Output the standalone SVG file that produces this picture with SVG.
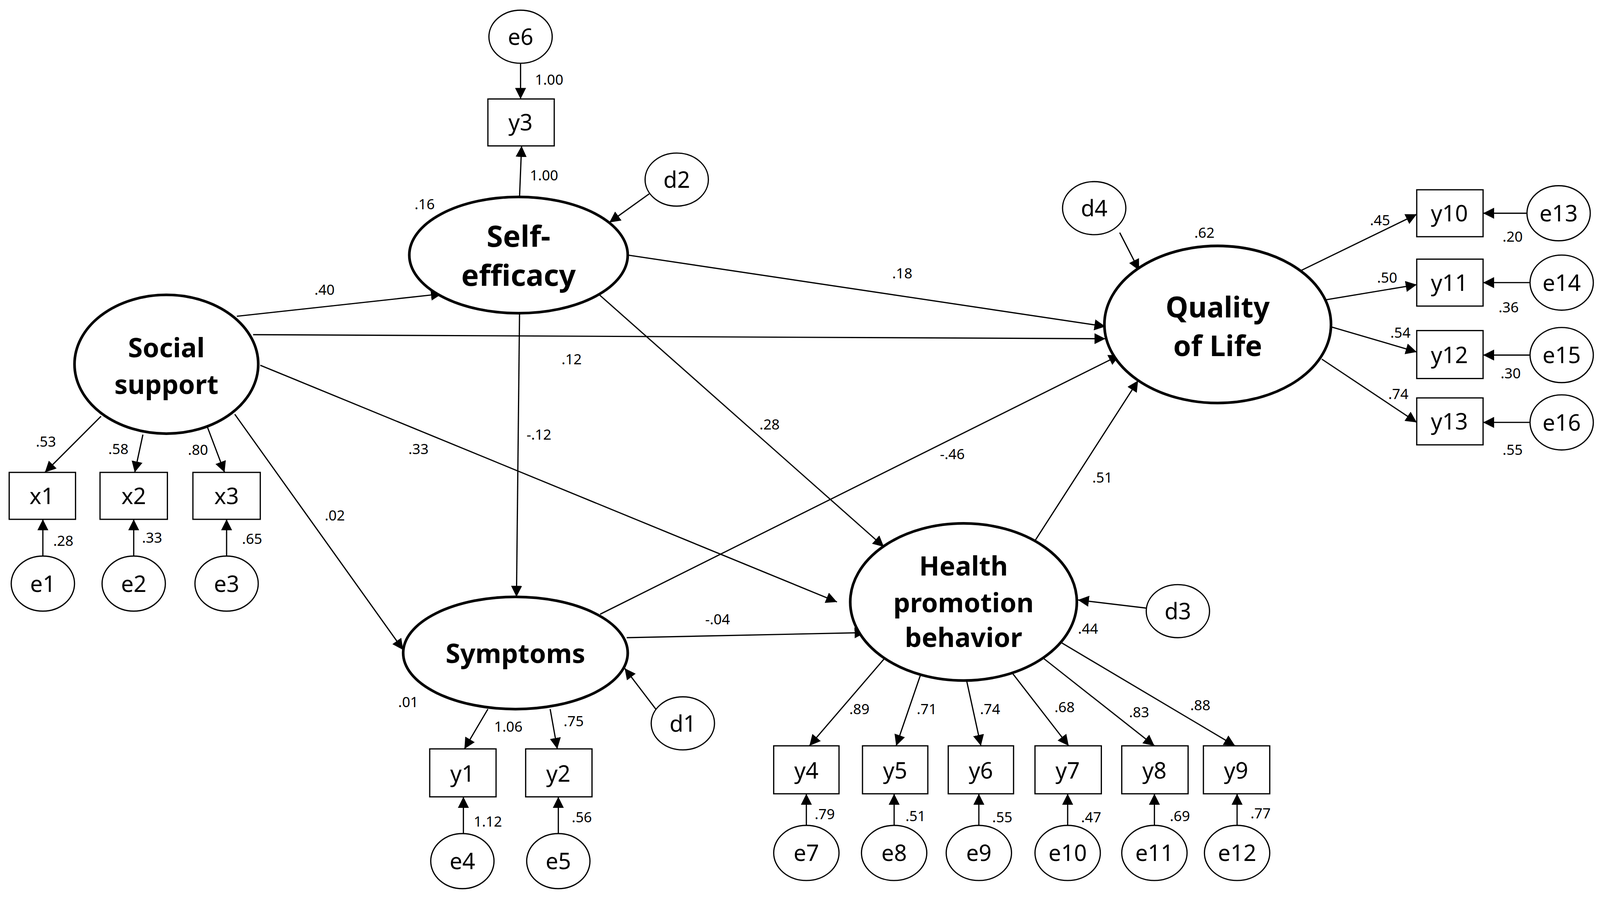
<svg xmlns="http://www.w3.org/2000/svg" width="4164" height="2328" viewBox="0 0 4164 2328">
<style>
.bg{fill:#fff}
.lat{fill:#fff;stroke:#000;stroke-width:2.6}
.err{fill:#fff;stroke:#000;stroke-width:1.2}
.box{fill:#fff;stroke:#000;stroke-width:1.2}
.lt{font-family:"Noto Sans","Open Sans",sans-serif;font-weight:bold;font-size:26px;text-anchor:middle;fill:#000}
.bt{font-family:"Noto Sans","Open Sans",sans-serif;font-size:22px;text-anchor:middle;fill:#000}
.nt{font-family:"Noto Sans","Open Sans",sans-serif;font-size:14px;text-anchor:middle;fill:#000}
#connectors line{stroke:#000;stroke-width:1.2;marker-end:url(#ah)}
</style>
<defs>
<marker id="ah" viewBox="0 0 10 10" refX="10" refY="5" markerWidth="9" markerHeight="9" orient="auto" markerUnits="strokeWidth">
<path d="M0,0 L10,5 L0,10 z" fill="#000"/>
</marker>
</defs>
<rect class="bg" width="4164" height="2328"/>
<g transform="scale(2.613)">
<g id="connectors">
<line x1="510" y1="62" x2="510" y2="97"/>
<line x1="509" y1="193" x2="511" y2="143"/>
<line x1="636" y1="190" x2="597" y2="218"/>
<line x1="232" y1="310" x2="433" y2="288"/>
<line x1="248" y1="328" x2="1083" y2="332"/>
<line x1="615" y1="250" x2="1083" y2="320"/>
<line x1="509" y1="307" x2="506" y2="585"/>
<line x1="585" y1="287" x2="866" y2="536"/>
<line x1="255" y1="358" x2="820" y2="590"/>
<line x1="230" y1="406" x2="395" y2="637"/>
<line x1="588" y1="602" x2="1097" y2="348"/>
<line x1="614" y1="625" x2="848" y2="620"/>
<line x1="1014" y1="530" x2="1115" y2="373"/>
<line x1="1097" y1="228" x2="1116" y2="265"/>
<line x1="1123" y1="596" x2="1056" y2="588"/>
<line x1="644" y1="697" x2="612" y2="655"/>
<line x1="99" y1="408" x2="44" y2="463"/>
<line x1="140" y1="426" x2="132" y2="463"/>
<line x1="203" y1="418" x2="220" y2="463"/>
<line x1="42" y1="545" x2="42" y2="509"/>
<line x1="131" y1="545" x2="131" y2="509"/>
<line x1="222" y1="545" x2="222" y2="509"/>
<line x1="478" y1="695" x2="455" y2="734"/>
<line x1="539" y1="695" x2="546" y2="734"/>
<line x1="454" y1="818" x2="454" y2="781"/>
<line x1="547" y1="818" x2="547" y2="781"/>
<line x1="866" y1="646" x2="793" y2="731"/>
<line x1="902" y1="661" x2="878" y2="731"/>
<line x1="947" y1="667" x2="961" y2="731"/>
<line x1="992" y1="660" x2="1047" y2="731"/>
<line x1="1022" y1="645" x2="1131" y2="731"/>
<line x1="1040" y1="630" x2="1210" y2="731"/>
<line x1="790" y1="810" x2="790" y2="778"/>
<line x1="876" y1="810" x2="876" y2="778"/>
<line x1="959" y1="810" x2="959" y2="778"/>
<line x1="1046" y1="810" x2="1046" y2="778"/>
<line x1="1131" y1="810" x2="1131" y2="778"/>
<line x1="1212" y1="810" x2="1212" y2="778"/>
<line x1="1275" y1="265" x2="1388" y2="210"/>
<line x1="1298" y1="294" x2="1388" y2="279"/>
<line x1="1303" y1="320" x2="1388" y2="345"/>
<line x1="1295" y1="352" x2="1388" y2="414"/>
<line x1="1496" y1="209" x2="1453" y2="209"/>
<line x1="1499" y1="277" x2="1453" y2="277"/>
<line x1="1499" y1="348" x2="1453" y2="348"/>
<line x1="1499" y1="414" x2="1453" y2="414"/>
</g>
<g id="labels">
<text class="nt" x="538" y="83">1.00</text>
<text class="nt" x="533" y="177">1.00</text>
<text class="nt" x="318" y="289">.40</text>
<text class="nt" x="560" y="357">.12</text>
<text class="nt" x="884" y="273">.18</text>
<text class="nt" x="528" y="431">-.12</text>
<text class="nt" x="754" y="421">.28</text>
<text class="nt" x="410" y="445">.33</text>
<text class="nt" x="328" y="510">.02</text>
<text class="nt" x="933" y="450">-.46</text>
<text class="nt" x="703" y="612">-.04</text>
<text class="nt" x="1080" y="473">.51</text>
<text class="nt" x="45" y="438">.53</text>
<text class="nt" x="116" y="445">.58</text>
<text class="nt" x="194" y="446">.80</text>
<text class="nt" x="62" y="535">.28</text>
<text class="nt" x="149" y="532">.33</text>
<text class="nt" x="247" y="533">.65</text>
<text class="nt" x="498" y="717">1.06</text>
<text class="nt" x="562" y="712">.75</text>
<text class="nt" x="478" y="810">1.12</text>
<text class="nt" x="570" y="806">.56</text>
<text class="nt" x="842" y="700">.89</text>
<text class="nt" x="908" y="700">.71</text>
<text class="nt" x="970" y="700">.74</text>
<text class="nt" x="1043" y="698">.68</text>
<text class="nt" x="1116" y="703">.83</text>
<text class="nt" x="1176" y="696">.88</text>
<text class="nt" x="808" y="803">.79</text>
<text class="nt" x="897" y="805">.51</text>
<text class="nt" x="982" y="806">.55</text>
<text class="nt" x="1069" y="806">.47</text>
<text class="nt" x="1156" y="805">.69</text>
<text class="nt" x="1235" y="802">.77</text>
<text class="nt" x="1352" y="221">.45</text>
<text class="nt" x="1359" y="277">.50</text>
<text class="nt" x="1372" y="331">.54</text>
<text class="nt" x="1370" y="391">.74</text>
<text class="nt" x="1482" y="237">.20</text>
<text class="nt" x="1478" y="306">.36</text>
<text class="nt" x="1480" y="371">.30</text>
<text class="nt" x="1482" y="446">.55</text>
<text class="nt" x="1180" y="233">.62</text>
<text class="nt" x="416" y="205">.16</text>
<text class="nt" x="400" y="693">.01</text>
<text class="nt" x="1066" y="621">.44</text>
</g>
<g id="SocialSupport"><ellipse class="lat" cx="163" cy="357" rx="90" ry="68"/><text class="lt" x="163" y="350">Social</text><text class="lt" x="163" y="386">support</text></g>
<g id="SelfEfficacy"><ellipse class="lat" cx="508" cy="250" rx="107" ry="57"/><text class="lt" x="508" y="242" style="font-size:29px">Self-</text><text class="lt" x="508" y="280" style="font-size:29px">efficacy</text></g>
<g id="Symptoms"><ellipse class="lat" cx="505" cy="640" rx="110" ry="55"/><text class="lt" x="505" y="650">Symptoms</text></g>
<g id="HPB"><ellipse class="lat" cx="944" cy="590" rx="111" ry="77"/><text class="lt" x="944" y="564">Health</text><text class="lt" x="944" y="600">promotion</text><text class="lt" x="944" y="634">behavior</text></g>
<g id="QoL"><ellipse class="lat" cx="1193" cy="318" rx="111" ry="77"/><text class="lt" x="1193" y="311" style="font-size:28px">Quality</text><text class="lt" x="1193" y="349" style="font-size:28px">of Life</text></g>
<g id="e6"><ellipse class="err" cx="510" cy="36" rx="31" ry="26"/><text class="bt" x="510" y="44">e6</text></g>
<g id="d2"><ellipse class="err" cx="663" cy="176" rx="31" ry="26"/><text class="bt" x="663" y="184">d2</text></g>
<g id="d1"><ellipse class="err" cx="669" cy="709" rx="31" ry="26"/><text class="bt" x="669" y="717">d1</text></g>
<g id="d3"><ellipse class="err" cx="1154" cy="599" rx="31" ry="26"/><text class="bt" x="1154" y="607">d3</text></g>
<g id="d4"><ellipse class="err" cx="1072" cy="204" rx="31" ry="26"/><text class="bt" x="1072" y="212">d4</text></g>
<g id="y3"><rect class="box" x="478" y="97" width="65" height="46"/><text class="bt" x="510" y="128">y3</text></g>
<g id="x1"><rect class="box" x="9" y="463" width="65" height="46"/><text class="bt" x="41" y="494">x1</text></g>
<g id="x2"><rect class="box" x="98" y="463" width="66" height="46"/><text class="bt" x="131" y="494">x2</text></g>
<g id="x3"><rect class="box" x="189" y="463" width="66" height="46"/><text class="bt" x="222" y="494">x3</text></g>
<g id="e1"><ellipse class="err" cx="42" cy="572" rx="31" ry="27"/><text class="bt" x="42" y="580">e1</text></g>
<g id="e2"><ellipse class="err" cx="131" cy="572" rx="31" ry="27"/><text class="bt" x="131" y="580">e2</text></g>
<g id="e3"><ellipse class="err" cx="222" cy="572" rx="31" ry="27"/><text class="bt" x="222" y="580">e3</text></g>
<g id="y1"><rect class="box" x="421" y="734" width="65" height="47"/><text class="bt" x="453" y="766">y1</text></g>
<g id="y2"><rect class="box" x="515" y="734" width="65" height="47"/><text class="bt" x="547" y="766">y2</text></g>
<g id="e4"><ellipse class="err" cx="453" cy="844" rx="31" ry="27"/><text class="bt" x="453" y="852">e4</text></g>
<g id="e5"><ellipse class="err" cx="547" cy="844" rx="31" ry="27"/><text class="bt" x="547" y="852">e5</text></g>
<g id="y4"><rect class="box" x="758" y="731" width="64" height="47"/><text class="bt" x="790" y="763">y4</text></g>
<g id="y5"><rect class="box" x="845" y="731" width="64" height="47"/><text class="bt" x="877" y="763">y5</text></g>
<g id="y6"><rect class="box" x="929" y="731" width="64" height="47"/><text class="bt" x="961" y="763">y6</text></g>
<g id="y7"><rect class="box" x="1014" y="731" width="65" height="47"/><text class="bt" x="1046" y="763">y7</text></g>
<g id="y8"><rect class="box" x="1099" y="731" width="65" height="47"/><text class="bt" x="1131" y="763">y8</text></g>
<g id="y9"><rect class="box" x="1179" y="731" width="65" height="47"/><text class="bt" x="1211" y="763">y9</text></g>
<g id="e7"><ellipse class="err" cx="790" cy="836" rx="32" ry="27"/><text class="bt" x="790" y="844">e7</text></g>
<g id="e8"><ellipse class="err" cx="876" cy="836" rx="32" ry="27"/><text class="bt" x="876" y="844">e8</text></g>
<g id="e9"><ellipse class="err" cx="959" cy="836" rx="32" ry="27"/><text class="bt" x="959" y="844">e9</text></g>
<g id="e10"><ellipse class="err" cx="1046" cy="836" rx="32" ry="27"/><text class="bt" x="1046" y="844">e10</text></g>
<g id="e11"><ellipse class="err" cx="1131" cy="836" rx="32" ry="27"/><text class="bt" x="1131" y="844">e11</text></g>
<g id="e12"><ellipse class="err" cx="1212" cy="836" rx="32" ry="27"/><text class="bt" x="1212" y="844">e12</text></g>
<g id="y10"><rect class="box" x="1388" y="186" width="65" height="46"/><text class="bt" x="1420" y="217">y10</text></g>
<g id="y11"><rect class="box" x="1388" y="254" width="65" height="46"/><text class="bt" x="1420" y="285">y11</text></g>
<g id="y12"><rect class="box" x="1388" y="324" width="65" height="47"/><text class="bt" x="1420" y="356">y12</text></g>
<g id="y13"><rect class="box" x="1388" y="390" width="65" height="46"/><text class="bt" x="1420" y="421">y13</text></g>
<g id="e13"><ellipse class="err" cx="1527" cy="209" rx="31" ry="27"/><text class="bt" x="1527" y="217">e13</text></g>
<g id="e14"><ellipse class="err" cx="1530" cy="277" rx="31" ry="27"/><text class="bt" x="1530" y="285">e14</text></g>
<g id="e15"><ellipse class="err" cx="1530" cy="348" rx="31" ry="27"/><text class="bt" x="1530" y="356">e15</text></g>
<g id="e16"><ellipse class="err" cx="1530" cy="414" rx="31" ry="27"/><text class="bt" x="1530" y="422">e16</text></g>
</g>
</svg>
